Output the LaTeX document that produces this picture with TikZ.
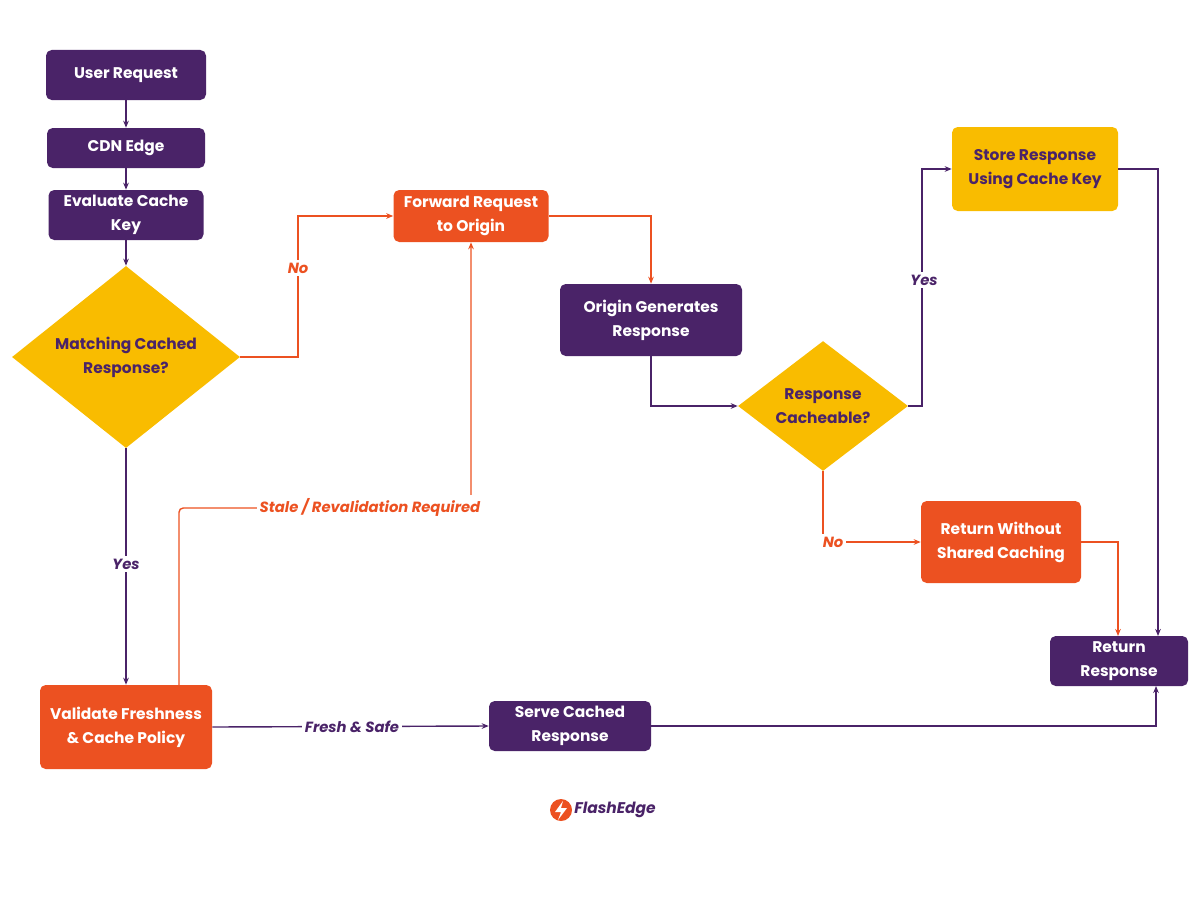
\documentclass[tikz,border=0pt]{standalone}
\usepackage{fontspec}
\setmainfont{Poppins}
\usetikzlibrary{arrows.meta,shapes.geometric}
\definecolor{fePurple}{HTML}{4A2368}
\definecolor{feOrange}{HTML}{EC5121}
\definecolor{feYellow}{HTML}{F9BC00}
\begin{document}
\begin{tikzpicture}[x=0.025cm,y=-0.025cm,>={Stealth[length=5pt,width=4pt]},
  box/.style={rectangle, rounded corners=4pt, text=white, align=center, inner sep=0pt, font=\fontsize{11}{17}\selectfont\bfseries},
  pbox/.style={box, fill=fePurple},
  obox/.style={box, fill=feOrange},
  ybox/.style={box, fill=feYellow, text=fePurple},
  dec/.style={diamond, fill=feYellow, text=fePurple, align=center, inner sep=0pt, font=\fontsize{11}{17}\selectfont\bfseries},
  pline/.style={draw=fePurple, line width=1pt, ->},
  oline/.style={draw=feOrange, line width=1pt, ->},
  lbl/.style={fill=white, inner sep=2pt, font=\fontsize{10.5}{12}\selectfont\bfseries\itshape}]
\useasboundingbox (0,0) rectangle (1200,900);
\node[pbox, minimum width=160*0.025cm, minimum height=50*0.025cm] (user) at (126,75) {User Request};
\node[pbox, minimum width=158*0.025cm, minimum height=40*0.025cm] (cdn) at (126,148) {CDN Edge};
\node[pbox, minimum width=155*0.025cm, minimum height=50*0.025cm] (eval) at (126,215) {Evaluate Cache\\Key};
\node[dec, minimum width=228*0.025cm, minimum height=174*0.025cm] (match) at (126,357) {Matching Cached\\Response?};
\node[obox, minimum width=155*0.025cm, minimum height=52*0.025cm] (fwd) at (471,216) {Forward Request\\to Origin};
\node[pbox, minimum width=182*0.025cm, minimum height=72*0.025cm] (origin) at (651,320) {Origin Generates\\Response};
\node[dec, minimum width=170*0.025cm, minimum height=113*0.025cm] (cache) at (823,406) {Response\\Cacheable?};
\node[ybox, minimum width=166*0.025cm, minimum height=84*0.025cm] (store) at (1035,169) {Store Response\\Using Cache Key};
\node[obox, minimum width=160*0.025cm, minimum height=82*0.025cm] (nocache) at (1001,542) {Return Without\\Shared Caching};
\node[pbox, minimum width=138*0.025cm, minimum height=50*0.025cm] (ret) at (1119,661) {Return\\Response};
\node[obox, minimum width=172*0.025cm, minimum height=84*0.025cm] (valid) at (126,727) {Validate Freshness\\\& Cache Policy};
\node[pbox, minimum width=162*0.025cm, minimum height=50*0.025cm] (serve) at (570,726) {Serve Cached\\Response};
% connectors
\draw[pline] (user) -- (cdn);
\draw[pline] (cdn) -- (eval);
\draw[pline] (eval) -- (match);
\draw[oline] (match.east) -| (298,268) |- (fwd.west);
\node[lbl, text=feOrange] (no1) at (298,268) {No};
\draw[pline] (match.south) -- (valid.north);
\node[lbl, text=fePurple] (yes1) at (126,564) {Yes};
\draw[oline, rounded corners=3pt] (179,685) -- (179,508) -- (471,508) -- (fwd.south);
\node[lbl, text=feOrange] (stale) at (370,507) {Stale / Revalidation Required};
\draw[oline] (fwd.east) -| (origin.north);
\draw[pline] (origin.south) |- (cache.west);
\draw[pline] (cache.east) -| (922,280) |- (store.west);
\node[lbl, text=fePurple] (yes2) at (924,280) {Yes};
\draw[oline] (cache.south) |- (nocache.west);
\node[lbl, text=feOrange] (no2) at (833,542) {No};
\draw[oline] (nocache.east) -| (1118,636);
\draw[pline] (store.east) -| (1158,636);
\draw[pline] (valid.east) -- (serve.west);
\node[lbl, text=fePurple] (fresh) at (352,727) {Fresh \& Safe};
\draw[pline] (serve.east) -| (1156,686);
% logo
\node[circle, fill=feOrange, minimum size=22*0.025cm, inner sep=0pt] (logo) at (561,810) {};
\fill[white] (563,801) -- (555,812) -- (561,812) -- (558,820) -- (567,808) -- (561,808) -- cycle;
\node[anchor=west, text=fePurple, inner sep=0pt, font=\fontsize{11}{12}\selectfont\bfseries\itshape] (brand) at (574,810) {FlashEdge};
\end{tikzpicture}
\end{document}
